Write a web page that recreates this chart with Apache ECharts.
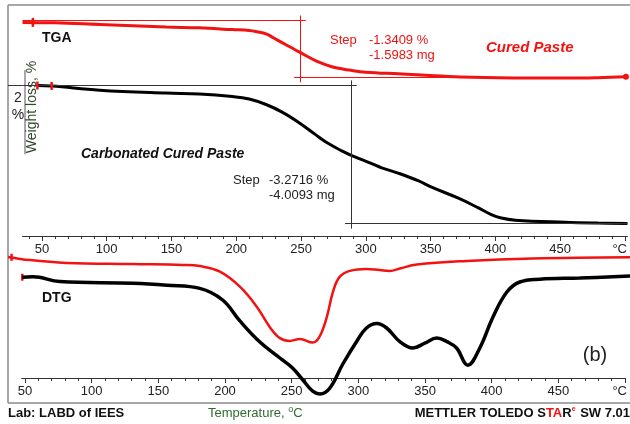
<!DOCTYPE html>
<html>
<head>
<meta charset="utf-8">
<script src="https://cdn.jsdelivr.net/npm/echarts@6/dist/echarts.min.js"></script>
<style>
  html, body { margin: 0; padding: 0; background: #fff; }
  #chart { width: 630px; height: 424px; }
</style>
</head>
<body>
<div id="chart"></div>
<script>
// ---- TGA: weight change (%) vs temperature (°C) ----
const tempCured = [35, 60, 94.6, 146, 171.5, 197, 210, 216, 223, 229, 235.4, 242, 248.5, 261.5, 273.8, 281.5, 287, 300, 325.4, 363.8, 402.3, 453.8, 479.2, 500.8];
const tgaCured  = [-0.04, -0.05, -0.09, -0.15, -0.17, -0.21, -0.23, -0.26, -0.31, -0.41, -0.52, -0.63, -0.74, -0.95, -1.09, -1.14, -1.17, -1.22, -1.26, -1.32, -1.35, -1.36, -1.35, -1.33];

const tempCarb = [46.9, 57.7, 94.6, 146, 171.5, 197, 210, 223, 235.4, 248.5, 261.5, 269.2, 281.5, 289.2, 304.6, 312.3, 325.4, 340.8, 350.8, 371.5, 386.9, 396.9, 404.6, 415.4, 453.8, 479.2, 502];
const tgaCarb  = [0, -0.01, -0.11, -0.18, -0.20, -0.26, -0.32, -0.45, -0.63, -0.88, -1.17, -1.34, -1.55, -1.66, -1.85, -1.95, -2.08, -2.26, -2.41, -2.67, -2.90, -3.06, -3.14, -3.19, -3.24, -3.26, -3.27];

// Step evaluation results: [Cured Paste, Carbonated Cured Paste]
const stepPercent = [-1.3409, -3.2716];
const stepMg      = [-1.5983, -4.0093];
const stepStartT  = [35, 35];        // left end of the upper bracket line
const stepMidT    = [249.2, 288.5];  // vertical bracket (inflection)

// ---- DTG: derivative signal (arbitrary units) vs temperature (°C) ----
const dtgTempCured = [37.4, 53.7, 81, 130, 167.5, 180, 195, 210, 222.5, 232, 239.6, 247, 254.5, 264, 269, 274.5, 279, 284, 291.6, 304, 314, 321.4, 328.8, 341.5, 378.6, 427.7, 500];
const dtgCured     = [0.01, -0.07, -0.14, -0.17, -0.19, -0.22, -0.36, -0.74, -1.24, -1.74, -2.02, -2.09, -2.04, -2.13, -1.99, -1.49, -0.87, -0.49, -0.34, -0.29, -0.32, -0.34, -0.28, -0.18, -0.09, -0.03, 0];

const dtgTempCarb = [47.8, 56, 76, 130.3, 155.6, 180, 197, 210, 224.7, 239.6, 249, 256.7, 264, 269.3, 276.8, 286.4, 296.8, 304, 311.7, 319, 328.8, 338.5, 347.4, 356.3, 363.8, 371, 379.4, 388.3, 398, 408.4, 418, 433, 462.6, 500];
const dtgCarb     = [-0.03, -0.02, -0.14, -0.18, -0.23, -0.31, -0.60, -1.13, -1.65, -2.05, -2.30, -2.60, -2.88, -2.95, -2.80, -2.20, -1.63, -1.30, -1.19, -1.30, -1.64, -1.80, -1.68, -1.55, -1.64, -1.80, -2.23, -1.80, -1.03, -0.40, -0.15, -0.08, -0.05, 0];

// ---- axis ticks ----
const majorTicks = [50, 100, 150, 200, 250, 300, 350, 400, 450, 500];
const minorTicks = [40, 60, 70, 80, 90, 110, 120, 130, 140, 160, 170, 180, 190, 210, 220, 230, 240, 260, 270, 280, 290, 310, 320, 330, 340, 360, 370, 380, 390, 410, 420, 430, 440, 460, 470, 480, 490];
const tickLabelPos = [50, 100, 150, 200, 250, 300, 350, 400, 450, 496];
const tickLabels   = ['50', '100', '150', '200', '250', '300', '350', '400', '450', '°C'];

const RED = '#f21212';
const FONT = '"Liberation Sans", Arial, sans-serif';

const zip = (xs, ys) => xs.map((x, i) => [x, ys[i]]);

// layout of the TGA pane (pixels) and its two stacked weight scales
const tga = { left: 22.5, top: 5, height: 231 };
const redY   = { min: -5.102, max: 0.372 };
const blackY = { min: -3.566, max: 1.908 };
const yPix = (axis, v) => tga.top + (axis.max - v) / (axis.max - axis.min) * tga.height;

function labelFmt(v) {
  const i = tickLabelPos.indexOf(v);
  return i >= 0 ? tickLabels[i] : '';
}

function tempAxis(gridIndex, min, max) {
  return [
    {
      type: 'value', gridIndex, min, max, position: 'bottom',
      splitLine: { show: false },
      axisLine: { show: true, onZero: false, lineStyle: { color: '#333', width: 1 } },
      axisTick: { show: true, customValues: majorTicks, length: 5, lineStyle: { color: '#333' } },
      axisLabel: {
        show: true, customValues: tickLabelPos, formatter: labelFmt,
        fontFamily: FONT, fontSize: 13, color: '#222', margin: 7,
        showMinLabel: true, showMaxLabel: true
      }
    },
    {
      type: 'value', gridIndex, min, max, position: 'bottom',
      splitLine: { show: false },
      axisLine: { show: false, onZero: false },
      axisTick: { show: true, customValues: minorTicks, length: 3, lineStyle: { color: '#333' } },
      axisLabel: { show: false }
    }
  ];
}

function stepBrackets(i, topVal, color) {
  const bottom = topVal + stepPercent[i];
  return {
    silent: true, symbol: 'none', label: { show: false },
    lineStyle: { color, width: 1, type: 'solid' },
    data: [
      [{ coord: [stepStartT[i], topVal] }, { coord: [stepMidT[i] + 4.5, topVal] }],
      [{ coord: [stepMidT[i], topVal + 0.12] }, { coord: [stepMidT[i], bottom - 0.12] }],
      [{ coord: [stepMidT[i] - 4.5, bottom] }, { coord: [502, bottom] }]
    ]
  };
}

const chart = echarts.init(document.getElementById('chart'), null, { renderer: 'canvas' });

const xAxes = [
  ...tempAxis(0, 35, 502),     // 0,1: TGA temperature axis
  { type: 'value', gridIndex: 1, min: 35, max: 500, show: false, axisLine: { onZero: false } },  // 2: DTG data
  ...tempAxis(2, 47.5, 500)    // 3,4: DTG temperature axis
];

const yAxes = [
  { type: 'value', gridIndex: 0, min: redY.min, max: redY.max, show: false },
  { type: 'value', gridIndex: 0, min: blackY.min, max: blackY.max, show: false },
  { type: 'value', gridIndex: 1, min: -3.5675, max: 0.4325, show: false },
  { type: 'value', gridIndex: 1, min: -3.1, max: 0.9, show: false },
  { type: 'value', gridIndex: 2, min: 0, max: 1, show: false }
];

const tick = (coord, color, h) => ({ coord, symbol: 'rect', symbolSize: [2.5, h], itemStyle: { color } });

const option = {
  animation: false,
  backgroundColor: '#fff',
  grid: [
    { left: tga.left, right: 0.4, top: tga.top, height: tga.height },
    { left: 4.83, right: 0, top: 240, height: 160 },
    { left: 21.64, right: 0, top: 370, height: 8 }
  ],
  xAxis: xAxes,
  yAxis: yAxes,
  series: [
    {
      name: 'TGA Cured Paste', type: 'line', xAxisIndex: 0, yAxisIndex: 0,
      data: zip(tempCured, tgaCured), smooth: 0.4, clip: false,
      showSymbol: false, lineStyle: { color: RED, width: 3 },
      markLine: stepBrackets(0, 0, RED),
      markPoint: { silent: true, label: { show: false }, data: [tick([43, -0.04], RED, 9), { coord: [500.8, -1.33], symbol: 'circle', symbolSize: 6, itemStyle: { color: RED } }] }
    },
    {
      name: 'TGA Carbonated Cured Paste', type: 'line', xAxisIndex: 0, yAxisIndex: 1,
      data: zip(tempCarb, tgaCarb), smooth: 0.4, clip: false,
      showSymbol: false, lineStyle: { color: '#000', width: 3 },
      markLine: stepBrackets(1, 0, '#333'),
      markPoint: { silent: true, label: { show: false }, data: [tick([46.5, 0], RED, 8), tick([57.5, -0.01], RED, 8)] }
    },
    {
      name: 'DTG Cured Paste', type: 'line', xAxisIndex: 2, yAxisIndex: 2,
      data: zip(dtgTempCured, dtgCured), smooth: 0.4,
      showSymbol: false, lineStyle: { color: RED, width: 2.5 }, z: 5,
      markPoint: { silent: true, label: { show: false }, data: [tick([40, 0], RED, 7)] }
    },
    {
      name: 'DTG Carbonated Cured Paste', type: 'line', xAxisIndex: 2, yAxisIndex: 3,
      data: zip(dtgTempCarb, dtgCarb), smooth: 0.4,
      showSymbol: false, lineStyle: { color: '#000', width: 3.5 }, z: 5,
      markPoint: { silent: true, label: { show: false }, data: [tick([48, -0.03], RED, 7)] }
    }
  ],
  graphic: [
    // frame
    { type: 'line', shape: { x1: 8, y1: 5, x2: 630, y2: 5 }, style: { stroke: '#8a8a8a', lineWidth: 1.5 }, silent: true },
    { type: 'line', shape: { x1: 8, y1: 5, x2: 8, y2: 403 }, style: { stroke: '#8a8a8a', lineWidth: 1.5 }, silent: true },
    { type: 'line', shape: { x1: 8, y1: 403, x2: 630, y2: 403 }, style: { stroke: '#8a8a8a', lineWidth: 1.5 }, silent: true },
    // continuation of the upper step line to the frame
    { type: 'line', shape: { x1: 8, y1: yPix(blackY, 0), x2: tga.left, y2: yPix(blackY, 0) }, style: { stroke: '#333', lineWidth: 1 }, silent: true },
    // weight scale bar (2 %)
    { type: 'line', shape: { x1: 25, y1: yPix(blackY, 0.37), x2: 25, y2: yPix(blackY, -1.63) }, style: { stroke: '#555', lineWidth: 1 }, silent: true },
    { type: 'text', x: 18, y: 98, style: { text: '2', font: '14px ' + FONT, fill: '#222', align: 'center', verticalAlign: 'middle' } },
    { type: 'text', x: 18, y: 115, style: { text: '%', font: '14px ' + FONT, fill: '#222', align: 'center', verticalAlign: 'middle' } },
    { type: 'text', x: 32, y: 107, rotation: Math.PI / 2, style: { text: 'Weight loss, %', font: '14px ' + FONT, fill: '#2f4a2a', align: 'center', verticalAlign: 'middle' } },
    // pane titles
    { type: 'text', x: 42, y: 38, style: { text: 'TGA', font: 'bold 14px ' + FONT, fill: '#111', verticalAlign: 'middle' } },
    { type: 'text', x: 42, y: 298, style: { text: 'DTG', font: 'bold 14px ' + FONT, fill: '#111', verticalAlign: 'middle' } },
    { type: 'text', x: 486, y: 48, style: { text: 'Cured Paste', font: 'italic bold 15px ' + FONT, fill: RED, verticalAlign: 'middle' } },
    { type: 'text', x: 81, y: 154, style: { text: 'Carbonated Cured Paste', font: 'italic bold 14px ' + FONT, fill: '#111', verticalAlign: 'middle' } },
    // step results
    { type: 'text', x: 330, y: 40, style: { text: 'Step', font: '13px ' + FONT, fill: RED, verticalAlign: 'middle' } },
    { type: 'text', x: 369, y: 40, style: { text: stepPercent[0].toFixed(4) + ' %', font: '13px ' + FONT, fill: RED, verticalAlign: 'middle' } },
    { type: 'text', x: 369, y: 55, style: { text: stepMg[0].toFixed(4) + ' mg', font: '13px ' + FONT, fill: RED, verticalAlign: 'middle' } },
    { type: 'text', x: 233, y: 180, style: { text: 'Step', font: '13px ' + FONT, fill: '#222', verticalAlign: 'middle' } },
    { type: 'text', x: 269, y: 180, style: { text: stepPercent[1].toFixed(4) + ' %', font: '13px ' + FONT, fill: '#222', verticalAlign: 'middle' } },
    { type: 'text', x: 269, y: 195, style: { text: stepMg[1].toFixed(4) + ' mg', font: '13px ' + FONT, fill: '#222', verticalAlign: 'middle' } },
    // panel tag
    { type: 'text', x: 595, y: 355, style: { text: '(b)', font: '20px ' + FONT, fill: '#222', align: 'center', verticalAlign: 'middle' } },
    // footer
    { type: 'text', x: 8, y: 413, style: { text: 'Lab: LABD of IEES', font: 'bold 13px ' + FONT, fill: '#111', verticalAlign: 'middle' } },
    { type: 'text', x: 208, y: 413, style: {
        text: '{t|Temperature, }{s|o}{t|C}', verticalAlign: 'middle',
        rich: { t: { font: '13px ' + FONT, fill: '#2e6b2e' }, s: { font: '9px ' + FONT, fill: '#2e6b2e', padding: [0, 0, 7, 0] } }
    } },
    { type: 'text', x: 630, y: 413, style: {
        text: '{k|METTLER TOLEDO S}{r|TA}{k|R}{e|e}{k| SW 7.01}', align: 'right', verticalAlign: 'middle',
        rich: {
          k: { font: 'bold 13px ' + FONT, fill: '#111' },
          r: { font: 'bold 13px ' + FONT, fill: RED },
          e: { font: 'bold 7px ' + FONT, fill: RED, padding: [0, 1, 7, 0] }
        }
    } }
  ]
};

chart.setOption(option);
</script>
</body>
</html>
